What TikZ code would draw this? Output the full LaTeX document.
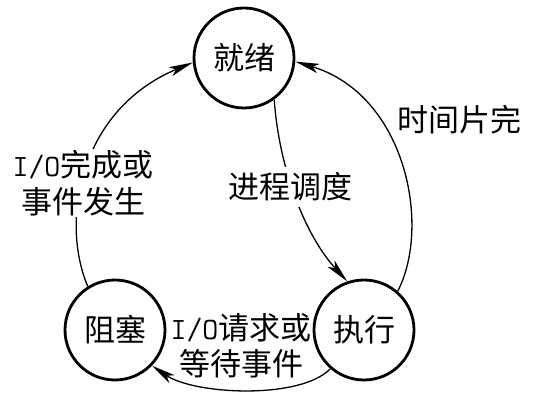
\documentclass[tikz,border=0pt]{standalone}
\usepackage{fontspec}
\newfontfamily\cjk{Noto Sans CJK SC}
\usetikzlibrary{arrows.meta}
\newcommand\myio{{\ttfamily I/O}}
\begin{document}
\begin{tikzpicture}[x=1pt,y=-1pt,
  state/.style={circle,draw,line width=2.8pt,minimum size=100pt,inner sep=0pt,font=\fontsize{31}{37}\selectfont\cjk},
  lbl/.style={font=\fontsize{31}{37}\selectfont\cjk,align=center,inner sep=1pt},
  arr/.style={line width=1.3pt,-{Stealth[length=24pt,width=9.5pt,inset=6pt]}}]
\useasboundingbox (0,0) rectangle (548,406);
\node[state] (R) at (244,58) {就绪};
\node[state] (B) at (115,330) {阻塞};
\node[state] (E) at (364,330) {执行};
\draw[arr] (R.306) .. controls +(5,70) and +(-42,-46) .. (E.109);
\draw[arr] (E.49) .. controls +(34,-66) and +(110,33) .. (R.356);
\draw[arr] (B.122) .. controls +(-28,-66) and +(-113,47) .. (R.185);
\draw[arr] (E.229) .. controls +(-30,31) and +(43,29) .. (B.316);
\node[lbl,fill=white,inner sep=6pt] (L1) at (290,187) {进程调度};
\node[lbl] (L2) at (459,120) {时间片完};
\node[lbl,fill=white] (L3) at (83,183) {\myio 完成或\\事件发生};
\node[lbl,font=\fontsize{31}{36}\selectfont\cjk] (L4) at (241,346) {\myio 请求或\\等待事件};
\end{tikzpicture}
\end{document}
